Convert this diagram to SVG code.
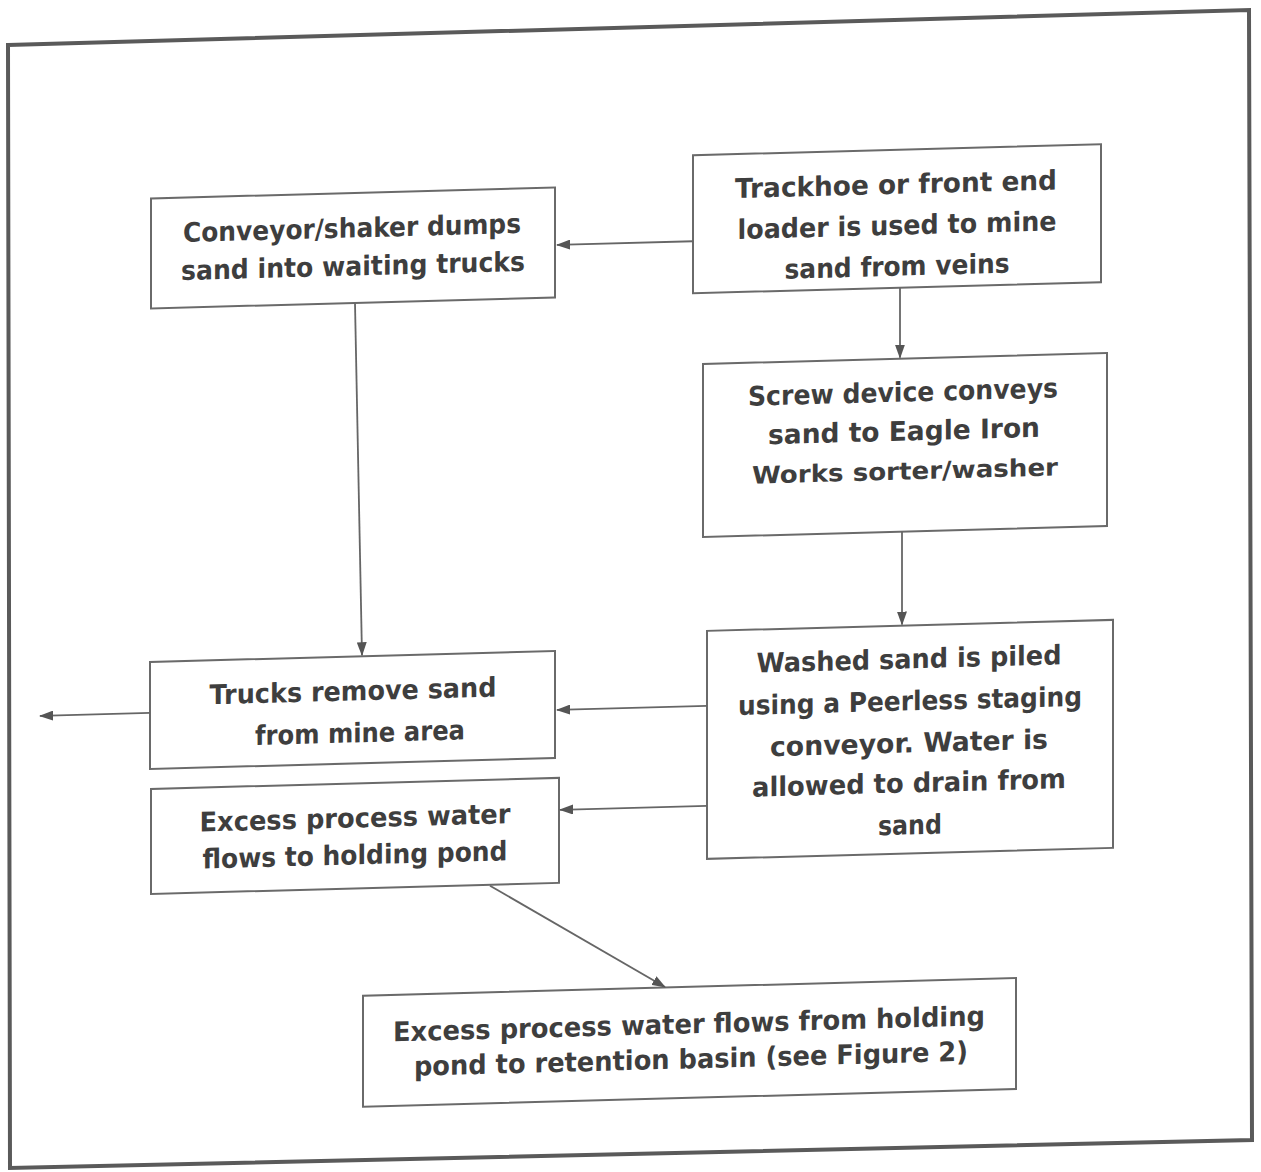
<svg xmlns="http://www.w3.org/2000/svg" width="1261" height="1172" viewBox="0 0 1261 1172">
<defs>
<style>
.frame{fill:none;stroke:#5a5a5a;stroke-width:4}
.box{fill:#fff;stroke:#6a6a6a;stroke-width:2}
.lbl{font-family:"DejaVu Sans",sans-serif;font-weight:bold;font-size:27px;fill:#3e3e3e;text-anchor:middle}
.conn{fill:none;stroke:#666;stroke-width:1.8;marker-end:url(#ah)}
</style>
<marker id="ah" viewBox="0 0 14 10" refX="13" refY="5" markerWidth="14" markerHeight="10" markerUnits="userSpaceOnUse" orient="auto">
<path d="M0,0 L14,5 L0,10 Z" fill="#555"/>
</marker>
</defs>
<rect width="1261" height="1172" fill="#fff"/>
<polygon class="frame" points="8,45 1249,10 1252,1140 10,1168"/>
<g transform="skewY(-1.55)">
<g id="n1">
<rect class="box" x="151" y="202.5" width="404" height="110"/>
<text class="lbl" x="352" y="247" textLength="338" lengthAdjust="spacingAndGlyphs">Conveyor/shaker dumps</text>
<text class="lbl" x="353" y="285" textLength="344" lengthAdjust="spacingAndGlyphs">sand into waiting trucks</text>
</g>
<g id="n2">
<rect class="box" x="693" y="174" width="408" height="138"/>
<text class="lbl" x="896" y="218" textLength="322" lengthAdjust="spacingAndGlyphs">Trackhoe or front end</text>
<text class="lbl" x="897" y="259" textLength="319" lengthAdjust="spacingAndGlyphs">loader is used to mine</text>
<text class="lbl" x="897" y="300" textLength="225" lengthAdjust="spacingAndGlyphs">sand from veins</text>
</g>
<g id="n3">
<rect class="box" x="703" y="383" width="404" height="173"/>
<text class="lbl" x="903" y="426" textLength="310" lengthAdjust="spacingAndGlyphs">Screw device conveys</text>
<text class="lbl" x="904" y="465" textLength="272" lengthAdjust="spacingAndGlyphs">sand to Eagle Iron</text>
<text class="lbl" x="905" y="504" textLength="306" lengthAdjust="spacingAndGlyphs" style="font-size:24px">Works sorter/washer</text>
</g>
<g id="n4">
<rect class="box" x="707" y="650" width="406" height="228"/>
<text class="lbl" x="909" y="693" textLength="305" lengthAdjust="spacingAndGlyphs">Washed sand is piled</text>
<text class="lbl" x="910" y="735" textLength="344" lengthAdjust="spacingAndGlyphs">using a Peerless staging</text>
<text class="lbl" x="909" y="777" textLength="278" lengthAdjust="spacingAndGlyphs">conveyor. Water is</text>
<text class="lbl" x="909" y="817" textLength="314" lengthAdjust="spacingAndGlyphs">allowed to drain from</text>
<text class="lbl" x="910" y="859" textLength="64" lengthAdjust="spacingAndGlyphs">sand</text>
</g>
<g id="n5">
<rect class="box" x="150" y="666" width="405" height="107"/>
<text class="lbl" x="353" y="710" textLength="287" lengthAdjust="spacingAndGlyphs">Trucks remove sand</text>
<text class="lbl" x="360" y="752" textLength="210" lengthAdjust="spacingAndGlyphs">from mine area</text>
</g>
<g id="n6">
<rect class="box" x="151" y="793" width="408" height="105"/>
<text class="lbl" x="355" y="837" textLength="311" lengthAdjust="spacingAndGlyphs">Excess process water</text>
<text class="lbl" x="355" y="874" textLength="305" lengthAdjust="spacingAndGlyphs">flows to holding pond</text>
</g>
<g id="n7">
<rect class="box" x="363" y="1005.5" width="653" height="111"/>
<text class="lbl" x="689" y="1052" textLength="592" lengthAdjust="spacingAndGlyphs">Excess process water flows from holding</text>
<text class="lbl" x="691" y="1087" textLength="554" lengthAdjust="spacingAndGlyphs">pond to retention basin (see Figure 2)</text>
</g>
<g id="connectors">
<line class="conn" x1="693" y1="260" x2="557" y2="260"/>
<line class="conn" x1="900" y1="312" x2="900" y2="382"/>
<line class="conn" x1="902" y1="556" x2="902" y2="649"/>
<line class="conn" x1="355" y1="313" x2="362" y2="665"/>
<line class="conn" x1="707" y1="725" x2="557" y2="725"/>
<line class="conn" x1="707" y1="825" x2="560" y2="825"/>
<line class="conn" x1="150" y1="717" x2="40" y2="717"/>
<line class="conn" x1="490" y1="899" x2="665" y2="1005"/>
</g>
</g>
</svg>
